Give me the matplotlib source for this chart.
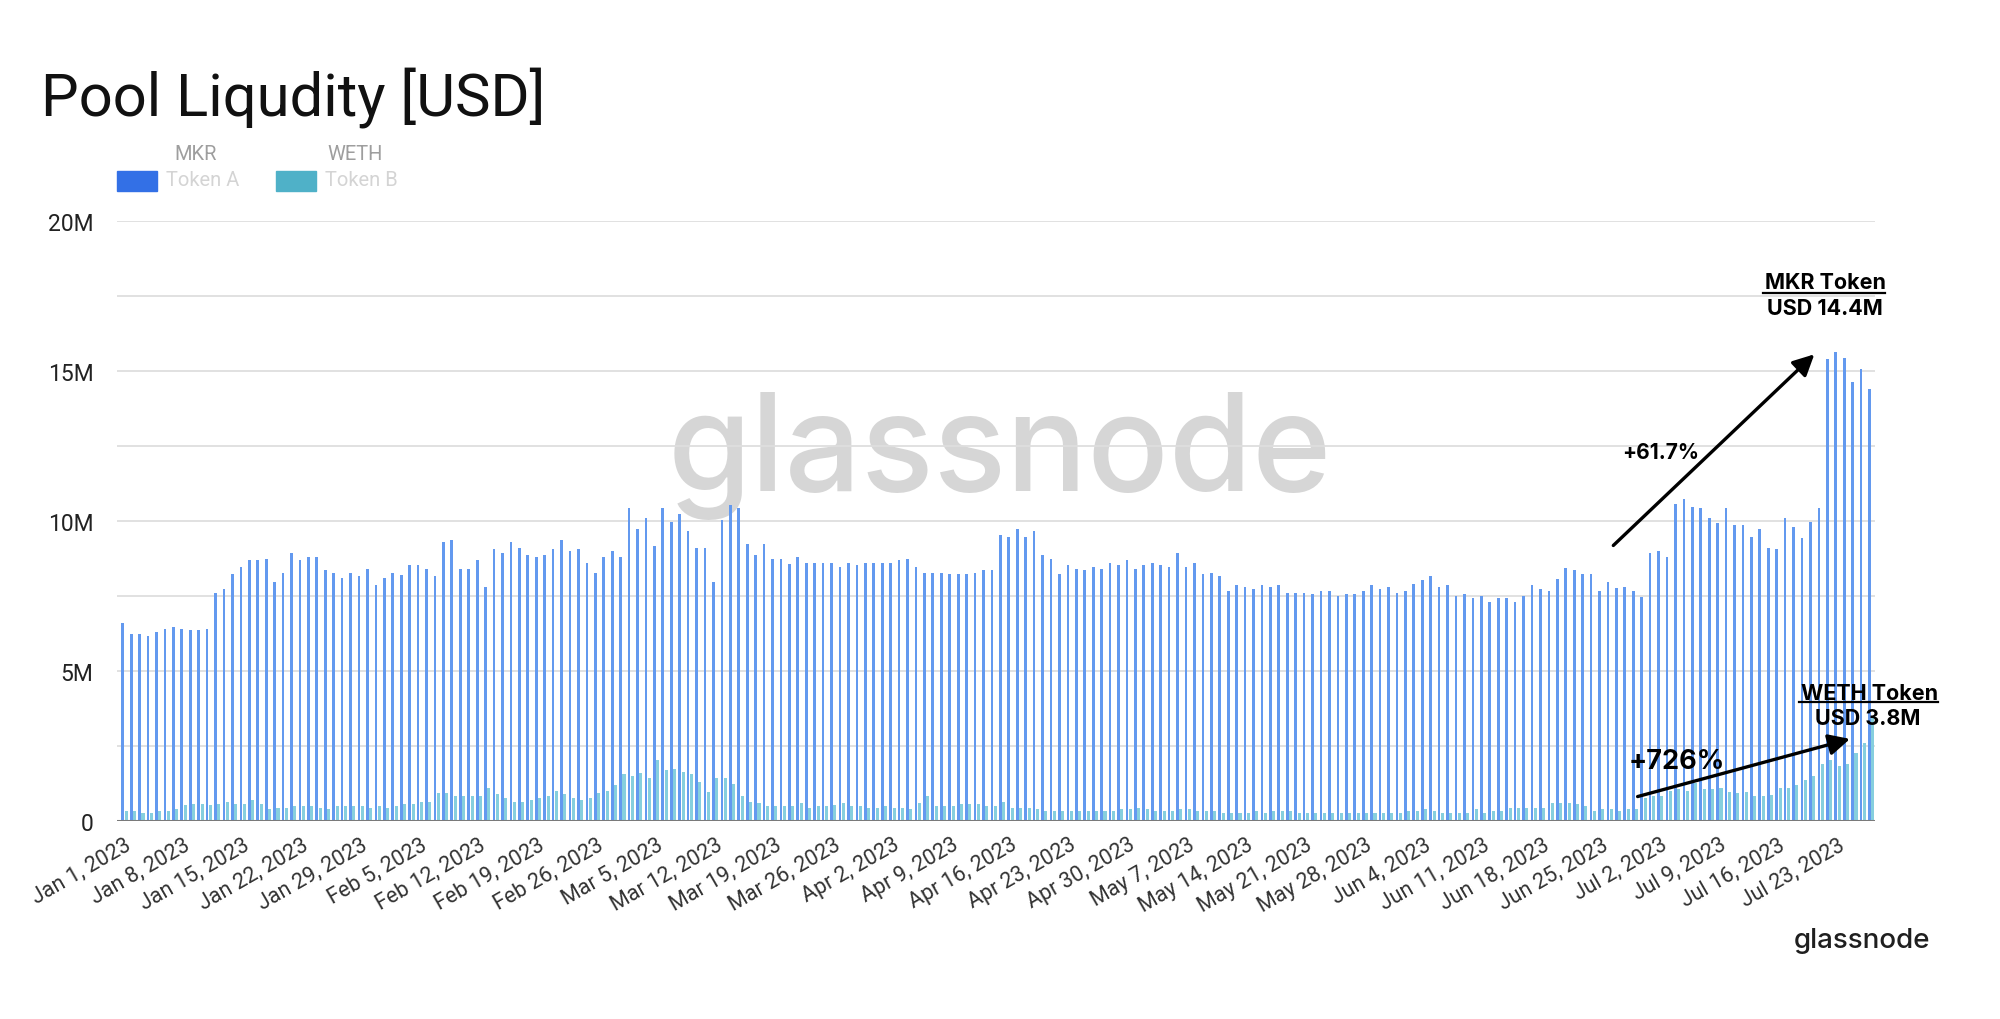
import datetime as dt
import numpy as np
import matplotlib
matplotlib.use("Agg")
from matplotlib import pyplot as plt
from matplotlib.patches import Rectangle

# daily pool liquidity, millions of USD, Jan 1 .. Jul 27 2023
mkr_usd = [
    6.59, 6.24, 6.24, 6.17, 6.30, 6.41, 6.48, 6.41, 6.36, 6.36, 6.41,
    7.61, 7.74, 8.22, 8.48, 8.69, 8.69, 8.74, 7.98, 8.28,
    8.92, 8.69, 8.80, 8.80, 8.36, 8.28, 8.09, 8.28, 8.16, 8.41,
    7.86, 8.10, 8.28, 8.21, 8.54, 8.54, 8.41, 8.16, 9.30, 9.36,
    8.41, 8.41, 8.69, 7.80, 9.06, 8.93, 9.30, 9.11, 8.87, 8.80,
    8.87, 9.06, 9.36, 9.00, 9.06, 8.61, 8.28, 8.80, 9.00, 8.80,
    10.42, 9.72, 10.11, 9.17, 10.42, 9.98, 10.24, 9.67, 9.11, 9.11,
    7.97, 10.03, 10.53, 10.42, 9.24, 8.87, 9.22, 8.74, 8.74, 8.56,
    8.80, 8.61, 8.61, 8.61, 8.61, 8.48, 8.61, 8.54, 8.61, 8.61,
    8.61, 8.61, 8.69, 8.74, 8.48, 8.28, 8.28, 8.28, 8.22, 8.22,
    8.22, 8.28, 8.36, 8.36, 9.53, 9.48, 9.72, 9.48, 9.67, 8.87,
    8.74, 8.22, 8.54, 8.41, 8.36, 8.48, 8.41, 8.61, 8.54, 8.69,
    8.41, 8.54, 8.61, 8.54, 8.48, 8.92, 8.48, 8.61, 8.22, 8.28,
    8.16, 7.67, 7.86, 7.80, 7.74, 7.86, 7.80, 7.86, 7.61, 7.61,
    7.61, 7.56, 7.67, 7.67, 7.50, 7.56, 7.56, 7.67, 7.86, 7.74,
    7.80, 7.61, 7.67, 7.91, 8.03, 8.16, 7.80, 7.86, 7.50, 7.56,
    7.44, 7.50, 7.30, 7.43, 7.43, 7.30, 7.50, 7.86, 7.74, 7.67,
    8.06, 8.42, 8.36, 8.22, 8.22, 7.67, 7.97, 7.78, 7.80, 7.67,
    7.48, 8.92, 9.00, 8.80, 10.56, 10.72, 10.48, 10.42, 10.11, 9.92,
    10.42, 9.86, 9.86, 9.48, 9.72, 9.11, 9.06, 10.11, 9.80, 9.42,
    9.98, 10.42, 15.39, 15.64, 15.44, 14.64, 15.06, 14.40,
]
weth_usd = [
    0.33, 0.33, 0.26, 0.26, 0.33, 0.33, 0.39, 0.52, 0.58, 0.58, 0.52,
    0.58, 0.64, 0.58, 0.58, 0.70, 0.58, 0.39, 0.44, 0.44,
    0.50, 0.50, 0.50, 0.44, 0.39, 0.50, 0.50, 0.50, 0.50, 0.44,
    0.50, 0.44, 0.50, 0.58, 0.58, 0.64, 0.64, 0.94, 0.94, 0.83,
    0.83, 0.83, 0.83, 1.11, 0.89, 0.78, 0.64, 0.64, 0.70, 0.78,
    0.83, 1.00, 0.89, 0.78, 0.70, 0.78, 0.94, 1.00, 1.19, 1.56,
    1.50, 1.61, 1.44, 2.02, 1.70, 1.74, 1.63, 1.56, 1.31, 0.97,
    1.44, 1.44, 1.24, 0.83, 0.64, 0.59, 0.50, 0.50, 0.50, 0.50,
    0.59, 0.44, 0.50, 0.50, 0.52, 0.59, 0.50, 0.50, 0.44, 0.44,
    0.50, 0.44, 0.44, 0.39, 0.59, 0.83, 0.50, 0.50, 0.50, 0.58,
    0.58, 0.58, 0.50, 0.50, 0.64, 0.44, 0.44, 0.44, 0.39, 0.33,
    0.33, 0.33, 0.33, 0.33, 0.33, 0.33, 0.33, 0.33, 0.39, 0.39,
    0.44, 0.39, 0.33, 0.33, 0.33, 0.39, 0.39, 0.33, 0.33, 0.33,
    0.26, 0.26, 0.26, 0.26, 0.33, 0.26, 0.33, 0.33, 0.33, 0.26,
    0.26, 0.26, 0.26, 0.26, 0.26, 0.26, 0.26, 0.26, 0.26, 0.26,
    0.26, 0.26, 0.33, 0.33, 0.39, 0.33, 0.26, 0.26, 0.26, 0.26,
    0.39, 0.26, 0.33, 0.33, 0.44, 0.44, 0.44, 0.44, 0.44, 0.59,
    0.59, 0.59, 0.56, 0.50, 0.33, 0.39, 0.39, 0.33, 0.39, 0.39,
    0.78, 0.83, 0.83, 1.00, 1.06, 1.00, 1.26, 1.06, 1.08, 1.11,
    0.97, 0.94, 0.97, 0.83, 0.83, 0.86, 1.11, 1.11, 1.19, 1.37,
    1.50, 1.89, 2.02, 1.83, 1.89, 2.28, 2.61, 3.50,
]
start_day = dt.date(2023, 1, 1)
dates = [start_day + dt.timedelta(days=i) for i in range(len(mkr_usd))]
tick_days = list(range(0, len(dates), 7))
tick_labels = [f"{dates[i]:%b} {dates[i].day}, {dates[i].year}" for i in tick_days]
y_ticks = [0, 5, 10, 15, 20]
y_labels = ["0", "5M", "10M", "15M", "20M"]

W, H = 2000, 1020
def fx(px):
    return px / W
def fy(py):
    return 1 - py / H

fig = plt.figure(figsize=(20, 10.2), dpi=100)
ax = fig.add_axes([fx(117), fy(822), fx(1875) - fx(117), fy(222) - fy(822)])

x = np.arange(len(mkr_usd))
ax.bar(x - 0.2, mkr_usd, width=0.32, color="#6399ef", zorder=2, linewidth=0)
ax.bar(x + 0.2, weth_usd, width=0.36, color="#86cfde", zorder=2, linewidth=0)

ax.set_xlim(-0.88, len(x) - 0.55)
ax.set_ylim(0, 20)
ax.set_yticks(y_ticks)
ax.set_yticklabels(y_labels, family="Roboto", fontsize=16.5, color="#222222")
ax.set_yticks(np.arange(2.5, 20, 5), minor=True)
ax.yaxis.grid(True, which="both", color="#dedede", lw=1.3)
ax.set_axisbelow(True)
ax.axhline(0, color="#7a7a7a", lw=2.2, zorder=3)

ax.set_xticks(tick_days)
ax.set_xticklabels(tick_labels, rotation=30, ha="right", va="top", rotation_mode="anchor",
                   family="Roboto", fontsize=15.5, color="#333333")
ax.tick_params(axis="both", which="both", length=0)
ax.tick_params(axis="x", pad=9)
ax.tick_params(axis="y", pad=17)
for s in ax.spines.values():
    s.set_visible(False)

# watermark
ax.text(0.502, 0.61, "glassnode", transform=ax.transAxes, ha="center", va="center",
        fontsize=97, family="Inter", weight=500, color="#d6d6d6", zorder=0.3)

# title and legend
fig.text(fx(41), fy(115), "Pool Liqudity [USD]", family="Roboto", fontsize=43,
         color="#111111", va="baseline")
legend_items = [("MKR", "Token A", "#3370e6", 117), ("WETH", "Token B", "#4fb1c8", 276)]
for name, sub, col, left in legend_items:
    fig.patches.append(Rectangle((fx(left), fy(192)), fx(40), 20 / H, color=col,
                                 transform=fig.transFigure))
    fig.text(fx(left + 49), fy(181), sub, family="Roboto", fontsize=14.5,
             color="#d4d4d4", va="center")
    fig.text(fx(left + 79), fy(155), name, family="Roboto", fontsize=14.5,
             color="#9e9e9e", va="center", ha="center")

# annotations
bold = dict(family="Inter", weight="bold", color="black")
ax.annotate("", xy=(200.5, 15.62), xytext=(176.2, 9.12),
            arrowprops=dict(arrowstyle="-|>", lw=2.4, color="black", mutation_scale=32),
            annotation_clip=False)
ax.annotate("", xy=(204.8, 2.76), xytext=(179.0, 0.79),
            arrowprops=dict(arrowstyle="-|>", lw=2.4, color="black", mutation_scale=32),
            annotation_clip=False)
ax.text(182.0, 12.3, "+61.7%", ha="center", va="center", fontsize=15, **bold)
ax.text(184.0, 2.0, "+726%", ha="center", va="center", fontsize=19.5, **bold)

ax.text(201.6, 17.96, "MKR Token", ha="center", va="center", fontsize=15.5, clip_on=False, **bold)
ax.plot([194.2, 208.6], [17.6, 17.6], color="black", lw=1.6, clip_on=False)
ax.text(201.5, 17.1, "USD 14.4M", ha="center", va="center", fontsize=15.5, clip_on=False, **bold)

ax.text(206.8, 4.26, "WETH Token", ha="center", va="center", fontsize=15.5, clip_on=False, **bold)
ax.plot([198.4, 214.9], [3.96, 3.96], color="black", lw=1.6, clip_on=False)
ax.text(206.6, 3.42, "USD 3.8M", ha="center", va="center", fontsize=15.5, clip_on=False, **bold)

fig.text(fx(1862), fy(941), "glassnode", ha="center", va="center", fontsize=20,
         family="Inter", weight=500, color="#1f1f1f")

fig.savefig("out.png", dpi=100, facecolor="white")
